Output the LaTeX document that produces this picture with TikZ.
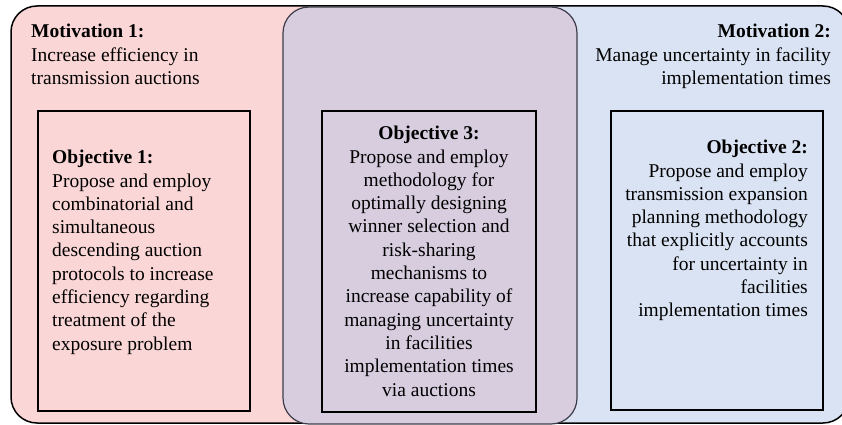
\documentclass[tikz,border=0pt]{standalone}
\usepackage{fontspec}
\setmainfont{Liberation Serif}
\definecolor{pinkbg}{HTML}{FBD6D6}
\definecolor{bluebg}{HTML}{DAE3F3}
\definecolor{purplebg}{HTML}{D7CDDF}
\definecolor{midline}{HTML}{3C3C48}
\tikzset{
  txt/.style={inner sep=0pt, font=\rmfamily\fontsize{19.5}{23.3}\selectfont},
  objbox/.style={draw=black, line width=1.5pt, inner sep=0pt},
}
\begin{document}
\begin{tikzpicture}[x=1pt,y=-1pt]
\useasboundingbox (0,0) rectangle (842,425);
% outer panel
\begin{scope}
  \clip[rounded corners=26pt] (11,6) rectangle (849,423);
  \fill[pinkbg] (0,0) rectangle (430,425);
  \fill[bluebg] (430,0) rectangle (850,425);
\end{scope}
\node[draw=black, line width=1.5pt, rounded corners=26pt, minimum width=838pt, minimum height=417pt, inner sep=0pt] (outer) at (430,214.5) {};
% middle panel
\node[fill=purplebg, draw=midline, line width=1.2pt, rounded corners=26pt, minimum width=294pt, minimum height=417pt, inner sep=0pt] (mid) at (430,215.5) {};
% objective boxes
\node[objbox, minimum width=212pt, minimum height=300pt] (o1box) at (144,261) {};
\node[objbox, minimum width=214pt, minimum height=301pt] (o3box) at (429,261.5) {};
\node[objbox, minimum width=212pt, minimum height=299pt] (o2box) at (717,260.5) {};
% texts
\node[txt, anchor=north west, align=left] (m1) at (31,24)
  {\textbf{Motivation 1:}\\Increase efficiency in\\transmission auctions};
\node[txt, anchor=north east, align=right] (m2) at (831,24)
  {\textbf{Motivation 2:}\\Manage uncertainty in facility\\implementation times};
\node[txt, anchor=north west, align=left] (o1) at (52,150)
  {\textbf{Objective 1:}\\Propose and employ\\combinatorial and\\simultaneous\\descending auction\\protocols to increase\\efficiency regarding\\treatment of the\\exposure problem};
\node[txt, anchor=north, align=center] (o3) at (429,126)
  {\textbf{Objective 3:}\\Propose and employ\\methodology for\\optimally designing\\winner selection and\\risk-sharing\\mechanisms to\\increase capability of\\managing uncertainty\\in facilities\\implementation times\\via auctions};
\node[txt, anchor=north east, align=right] (o2) at (808,140)
  {\textbf{Objective 2:}\\Propose and employ\\transmission expansion\\planning methodology\\that explicitly accounts\\for uncertainty in\\facilities\\implementation times};
\end{tikzpicture}
\end{document}
